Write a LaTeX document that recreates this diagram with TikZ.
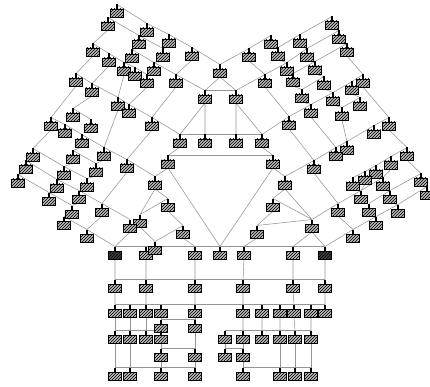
\documentclass[tikz,border=0pt]{standalone}
\usetikzlibrary{patterns}
\pgfdeclarelayer{bg}
\pgfsetlayers{bg,main}
\tikzset{
  hbox/.style={draw=black, line width=0.75pt, minimum width=13pt, minimum height=8pt, inner sep=0pt, outer sep=0pt, preaction={fill=gray!55}, pattern=north east lines, pattern color=black},
  dbox/.style={hbox, preaction={fill=black!75}, pattern color=black},
  lnk/.style={draw=black!42, line width=0.55pt}
}
\newcommand\bx[4][hbox]{\node[#1] (#2) at (#3,#4) {}; \fill (#3-1.4,#4-8.5) rectangle (#3+1.4,#4-4); \coordinate (#2t) at (#3,#4-8.5);}
\begin{document}
\begin{tikzpicture}[x=1pt,y=-1pt]
\useasboundingbox (0,0) rectangle (430,387);
% top-left
\bx{A1}{117}{13}\bx{A2}{108}{26}\bx{A3}{147}{32}\bx{A4}{139}{44}\bx{A5}{169}{43}
\bx{A6}{93}{52}\bx{A7}{109}{62}\bx{A8}{132}{58}\bx{A9}{163}{57}\bx{A10}{192}{56}
\bx{A11}{124}{71}\bx{A12}{135}{76}\bx{A13}{154}{71}\bx{A14}{147}{83}\bx{A15}{76}{82}
\bx{A16}{92}{92}\bx{A17}{176}{83}\bx{A18}{118}{106}\bx{A19}{129}{113}
% center
\bx{C0}{220}{73}\bx{Ca}{205}{99}\bx{Cb}{236}{99}\bx{Cc}{180}{143}\bx{Cd}{205}{143}
\bx{Ce}{236}{143}\bx{Cf}{262}{143}\bx{Cg}{152}{126}\bx{Ch}{289}{125}\bx{Ci}{168}{164}\bx{Cj}{273}{164}
% left wing
\bx{La}{73}{117}\bx{Lb}{91}{128}\bx{Lc}{51}{126}\bx{Ld}{65}{133}\bx{Le}{82}{143}
\bx{Lf}{33}{157}\bx{Lg}{73}{159}\bx{Lh}{104}{156}\bx{Li}{26}{169}\bx{Lj}{64}{175}
\bx{Lk}{96}{172}\bx{Ll}{18}{183}\bx{Lm}{57}{188}\bx{Ln}{87}{187}\bx{Lo}{49}{201}
\bx{Lp}{79}{199}\bx{Lq}{102}{212}\bx{Lr}{72}{214}\bx{Ls}{64}{225}\bx{Lt}{87}{238}
\bx{Lu}{127}{168}\bx{Lv}{155}{185}\bx{Lw}{168}{207}\bx{Lx}{140}{223}\bx{Ly}{130}{228}\bx{Lz}{183}{234}
% top-right
\bx{T1}{332}{25}\bx{T2}{339}{39}\bx{T3}{347}{52}\bx{T4}{271}{44}\bx{T5}{300}{43}
\bx{T6}{249}{57}\bx{T7}{278}{56}\bx{T8}{307}{57}\bx{T9}{287}{71}\bx{T10}{315}{70}
\bx{T11}{265}{83}\bx{T12}{293}{82}\bx{T13}{324}{85}\bx{T14}{363}{83}\bx{T15}{352}{90}
\bx{T16}{302}{98}\bx{T17}{333}{101}\bx{T18}{360}{106}\bx{T19}{311}{113}\bx{T20}{342}{116}
% right wing
\bx{R5}{389}{126}\bx{R6}{374}{134}\bx{R7}{347}{150}\bx{R8}{336}{156}\bx{R9}{407}{156}
\bx{R10}{391}{165}\bx{Ru}{314}{169}\bx{R11}{376}{174}\bx{R12}{365}{180}\bx{R13}{353}{186}
\bx{R14}{383}{186}\bx{R15}{421}{182}\bx{R16}{427}{195}\bx{R17}{361}{199}\bx{R18}{390}{199}
\bx{Rq}{338}{212}\bx{R19}{369}{212}\bx{R20}{398}{213}\bx{R21}{376}{225}\bx{Rx}{312}{228}
\bx{Rt}{353}{238}\bx{Rv}{285}{185}\bx{Rw}{273}{207}\bx{Rz}{257}{234}
% bottom rows
\bx[dbox]{D1}{115}{255}\bx{B2}{146}{255}\bx{B2b}{155}{250}\bx{B3}{195}{255}\bx{B4}{220}{255}
\bx{B5}{244}{255}\bx{B6}{293}{255}\bx[dbox]{D2}{325}{255}
\bx{E1}{115}{288}\bx{E2}{146}{288}\bx{E3}{195}{288}\bx{E4}{243}{288}\bx{E5}{293}{288}\bx{E6}{325}{288}
\bx{F1}{115}{313}\bx{F2}{130}{313}\bx{F3}{146}{313}\bx{F4}{161}{313}\bx{F5}{195}{313}
\bx{F6}{243}{313}\bx{F7}{262}{313}\bx{F8}{280}{313}\bx{F9}{294}{313}\bx{F10}{311}{313}\bx{F11}{325}{313}
\bx{G1}{161}{328}\bx{G2}{195}{328}
\bx{H1}{115}{339}\bx{H2}{130}{339}\bx{H3}{146}{339}\bx{H4}{161}{339}
\bx{H5}{225}{339}\bx{H6}{243}{339}\bx{H7}{262}{339}\bx{H8}{280}{339}\bx{H9}{295}{339}\bx{H10}{311}{339}
\bx{I1}{161}{357}\bx{I2}{195}{357}\bx{I3}{225}{357}\bx{I4}{243}{357}
\bx{J1}{115}{376}\bx{J2}{130}{376}\bx{J3}{161}{376}\bx{J4}{195}{376}
\bx{J5}{243}{376}\bx{J6}{280}{376}\bx{J7}{295}{376}\bx{J8}{311}{376}
\begin{pgfonlayer}{bg}
% top-left chains and children
\draw[lnk] (A1t)--(A3t)--(A5t)--(A10t)--(C0t);
\draw[lnk] (A2t)--(A4t)--(A9t);
\draw[lnk] (A6t)--(A7t)--(A11t)--(A12t)--(A14t);
\draw[lnk] (A8t)--(A13t)--(A17t)--(Cat);
\draw[lnk] (A15t)--(A16t)--(A18t)--(A19t)--(Cgt)--(Cct);
\draw[lnk] (A1.south)--(A2t) (A3.south)--(A4t) (A5.south)--(A9t) (A2.south)--(A6t)
  (A4.south)--(A8t) (A10.south)--(A17t) (A9.south)--(A13t) (A6.south)--(A15t)
  (A7.south)--(A16t) (A11.south)--(A18t) (A14.south)--(A19t) (A17.south)--(Cgt);
% center
\draw[lnk] (C0.south)--(Cat) (C0.south)--(Cbt) (Cat)--(Cbt) (Ca.south)--(Cct) (Ca.south)--(Cdt)
  (Cb.south)--(Cet) (Cb.south)--(Cft) (Cct)--(Cft) (Cc.south)--(Cit) (Cf.south)--(Cjt) (Cit)--(Cjt)
  (Ci.south)--(B4t) (Cj.south)--(B4t) (Ci.south)--(Lvt) (Cj.south)--(Rvt)
  (Lv.south)--(Lwt) (Lv.south)--(Lxt) (Rv.south)--(Rwt) (Rv.south)--(Rxt)
  (Lxt)--(Lwt) (Rwt)--(Rxt) (B2bt)--(Lzt) (Rzt)--(Rxt)
  (Lw.south)--(Lzt) (Rw.south)--(Rzt) (Lz.south)--(B3t) (Rz.south)--(B5t)
  (Lx.south)--(B2bt) (Rx.south)--(B6t) (Rx.south)--(D2t) (Ly.south)--(D1t) (D1t)--(D2t)
  (Cg.south)--(Lut) (Ch.south)--(Rut) (T11.south)--(Cht);
% top-right
\draw[lnk] (C0t)--(T6t)--(T4t);
\draw[lnk] (T7t)--(T5t)--(T1t);
\draw[lnk] (Cbt)--(T11t)--(T9t)--(T8t)--(T2t);
\draw[lnk] (T12t)--(T10t)--(T3t);
\draw[lnk] (T16t)--(T13t);
\draw[lnk] (Cft)--(Cht)--(T19t)--(T17t)--(T15t)--(T14t);
\draw[lnk] (T20t)--(T18t);
\draw[lnk] (T6.south)--(T11t) (T4.south)--(T7t) (T5.south)--(T8t) (T1.south)--(T2t)
  (T2.south)--(T3t) (T7.south)--(T9t) (T8.south)--(T10t) (T9.south)--(T12t)
  (T10.south)--(T13t) (T12.south)--(T16t) (T13.south)--(T17t) (T16.south)--(T19t)
  (T3.south)--(T14t) (T15.south)--(T18t) (T17.south)--(T20t);
% left wing
\draw[lnk] (Lct)--(Ldt)--(Let)--(Lht)--(Lut)--(Lvt);
\draw[lnk] (Lit)--(Lmt)--(Lpt)--(Lqt)--(Lyt);
\draw[lnk] (Llt)--(Lot)--(Lrt);
\draw[lnk] (Lst)--(Ltt)--(D1t);
\draw[lnk] (Lft)--(Ljt)--(Lnt);
\draw[lnk] (Lgt)--(Lkt);
\draw[lnk] (Lat)--(Lbt);
\draw[lnk] (A15.south)--(Lct) (A16.south)--(Lat) (Lc.south)--(Lft) (Le.south)--(Lgt)
  (A18.south)--(Lht) (Lh.south)--(Lkt) (Lk.south)--(Lnt) (Ln.south)--(Lpt)
  (Lu.south)--(Lqt) (Lq.south)--(Ltt) (Lg.south)--(Ljt) (Lr.south)--(Lst)
  (Lf.south)--(Lit) (Li.south)--(Llt) (Lj.south)--(Lmt) (Lm.south)--(Lot) (Lp.south)--(Lrt);
% right wing
\draw[lnk] (R5t)--(R6t)--(R7t)--(R8t)--(Rut)--(Rvt);
\draw[lnk] (R9t)--(R10t)--(R11t)--(R12t)--(R13t);
\draw[lnk] (R15t)--(R18t)--(R19t);
\draw[lnk] (R16t)--(R20t)--(R21t)--(Rtt)--(D2t);
\draw[lnk] (R14t)--(R17t)--(Rqt)--(Rxt);
\draw[lnk] (T14.south)--(R5t) (R5.south)--(R9t) (R9.south)--(R15t) (R15.south)--(R16t)
  (Ru.south)--(Rqt) (Rq.south)--(Rtt) (R10.south)--(R14t) (R12.south)--(R17t)
  (R14.south)--(R18t) (R18.south)--(R20t) (R19.south)--(R21t) (T19.south)--(R8t) (T20.south)--(R7t);
% bottom tree
\draw[lnk] (D1.south)--(E1t) (B2.south)--(E2t) (B3.south)--(E3t) (B5.south)--(E4t) (B6.south)--(E5t) (D2.south)--(E6t) (E1t)--(E6t);
\draw[lnk] (E1.south)--(F1t) (E2.south)--(F3t) (E3.south)--(F5t) (E4.south)--(F6t) (E5.south)--(F9t) (E6.south)--(F11t) (F1t)--(F11t);
\draw[lnk] (F4.south)--(G1t) (F5.south)--(G2t) (G1t)--(G2t);
\draw[lnk] (F1.south)--(H1t) (F2.south)--(H2t) (F3.south)--(H3t) (G1.south)--(H4t) (H1t)--(H4t);
\draw[lnk] (F6.south)--(H6t) (F7.south)--(H7t) (F8.south)--(H8t) (F9.south)--(H9t) (F10.south)--(H10t) (H5t)--(H10t);
\draw[lnk] (H4.south)--(I1t) (G2.south)--(I2t) (I1t)--(I2t) (H5.south)--(I3t) (H6.south)--(I4t) (I3t)--(I4t);
\draw[lnk] (H1.south)--(J1t) (H2.south)--(J2t) (I1.south)--(J3t) (I2.south)--(J4t) (J1t)--(J4t);
\draw[lnk] (I4.south)--(J5t) (H8.south)--(J6t) (H9.south)--(J7t) (H10.south)--(J8t) (J5t)--(J8t);
\end{pgfonlayer}
\end{tikzpicture}
\end{document}
